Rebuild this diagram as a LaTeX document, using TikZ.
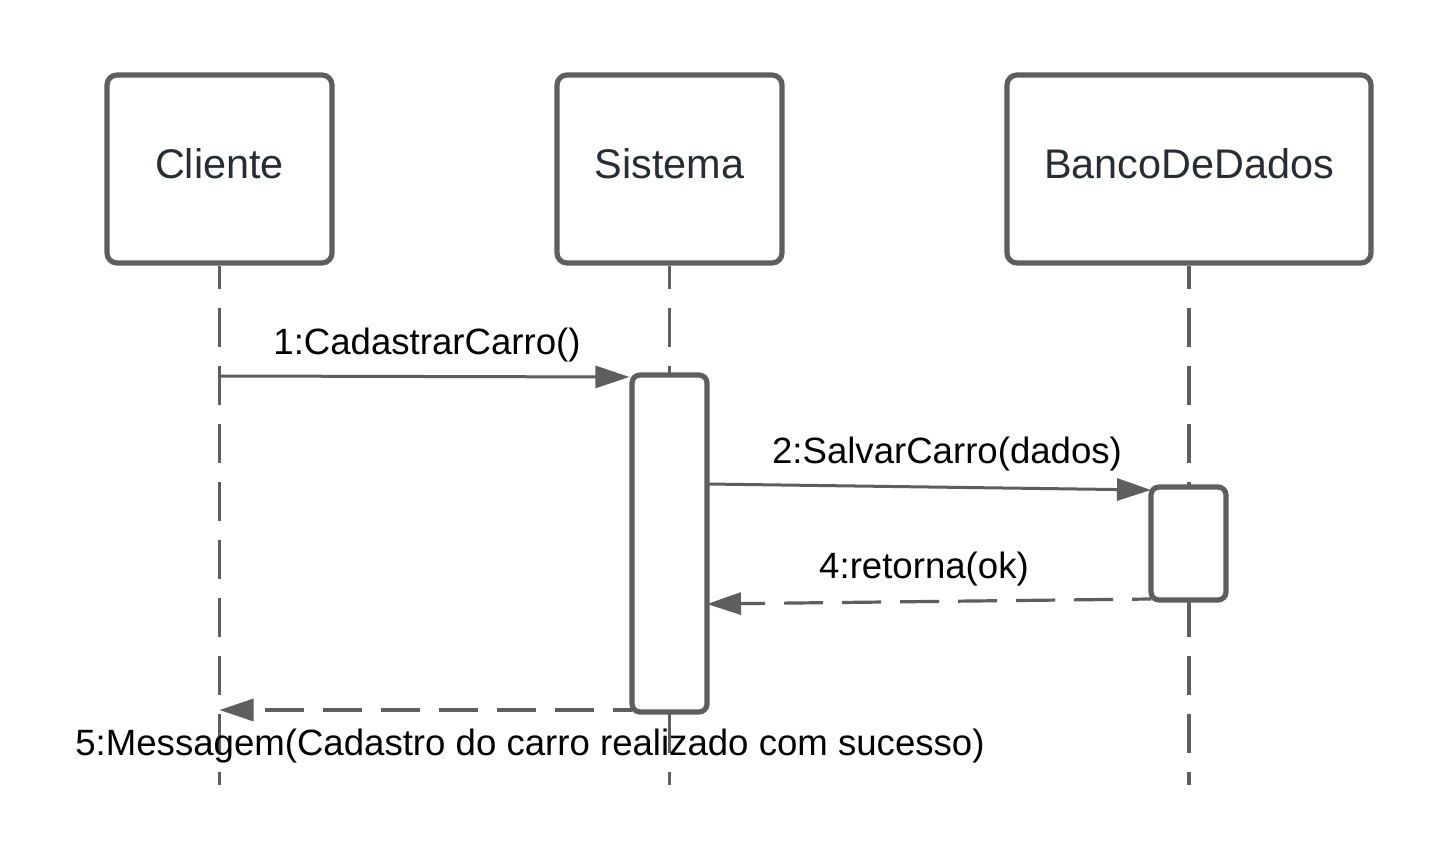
\documentclass[tikz,border=0pt]{standalone}
\usepackage{fontspec}
\setmainfont{Liberation Sans}
\usetikzlibrary{arrows.meta}
\definecolor{boxgray}{HTML}{5E5E5E}
\definecolor{headtext}{HTML}{282C33}
\begin{document}
\begin{tikzpicture}[x=0.5pt,y=-0.5pt,
  header/.style={draw=boxgray,line width=2.6pt,rounded corners=5pt,fill=white,
    minimum width=112.5pt,minimum height=94pt,inner sep=0pt},
  headtxt/.style={font=\fontsize{20.7pt}{24pt}\selectfont,text=headtext,inner sep=0pt},
  actbox/.style={draw=boxgray,line width=2.6pt,rounded corners=4pt,fill=white,
    minimum width=37.5pt,inner sep=0pt},
  lifeline/.style={draw=boxgray,line width=1.8pt,dash pattern=on 19.5pt off 9.5pt,dash phase=8pt},
  msg/.style={draw=boxgray,line width=1.5pt,-{Triangle[length=17pt,width=11pt]}},
  ret/.style={draw=boxgray,line width=1.6pt,dash pattern=on 19.5pt off 9.5pt,dash phase=10pt,-{Triangle[length=17pt,width=11pt]}},
  lbl/.style={font=\fontsize{18.3pt}{21pt}\selectfont,text=black,inner sep=0pt}]
\useasboundingbox[fill=white] (0,0) rectangle (1446,861);
% lifeline ends
\coordinate (cEnd) at (219.5,785);
\coordinate (sEnd) at (669.5,785);
\coordinate (bEnd) at (1189,785);
% headers
\node[header,minimum width=112.5pt] (cli) at (219.5,169) {};
\node[header,minimum width=112.5pt] (sis) at (669.5,169) {};
\node[header,minimum width=182pt] (bd) at (1189,169) {};
\node[headtxt] (cliT) at (219.5,164) {Cliente};
\node[headtxt] (sisT) at (669.5,164) {Sistema};
\node[headtxt] (bdT) at (1189,164) {BancoDeDados};
% lifelines
\draw[lifeline] (cli.south) -- (cEnd);
\draw[lifeline] (sis.south) -- (sEnd);
\draw[lifeline] (bd.south) -- (bEnd);
% activation boxes
\node[actbox,minimum height=168.5pt] (actS) at (669.5,543.5) {};
\node[actbox,minimum height=56.5pt] (actB) at (1188.5,543.5) {};
% messages
\coordinate (m1s) at (219.5,376);
\draw[msg] (m1s) -- (actS.north west |- 0,377);
\node[lbl] (l1) at (427,345) {1:CadastrarCarro()};
\coordinate (m2s) at (707,484);
\coordinate (m2e) at (1151,490);
\draw[msg] (m2s) -- (m2e);
\node[lbl] (l2) at (947,454) {2:SalvarCarro(dados)};
\coordinate (m4s) at (1151,599);
\coordinate (m4e) at (707,604);
\draw[ret] (m4s) -- (m4e);
\node[lbl] (l4) at (924,569) {4:retorna(ok)};
\coordinate (m5s) at (632,710);
\coordinate (m5e) at (219.5,710);
\draw[ret] (m5s) -- (m5e);
\node[lbl] (l5) at (530,746) {5:Messagem(Cadastro do carro realizado com sucesso)};
\end{tikzpicture}
\end{document}
